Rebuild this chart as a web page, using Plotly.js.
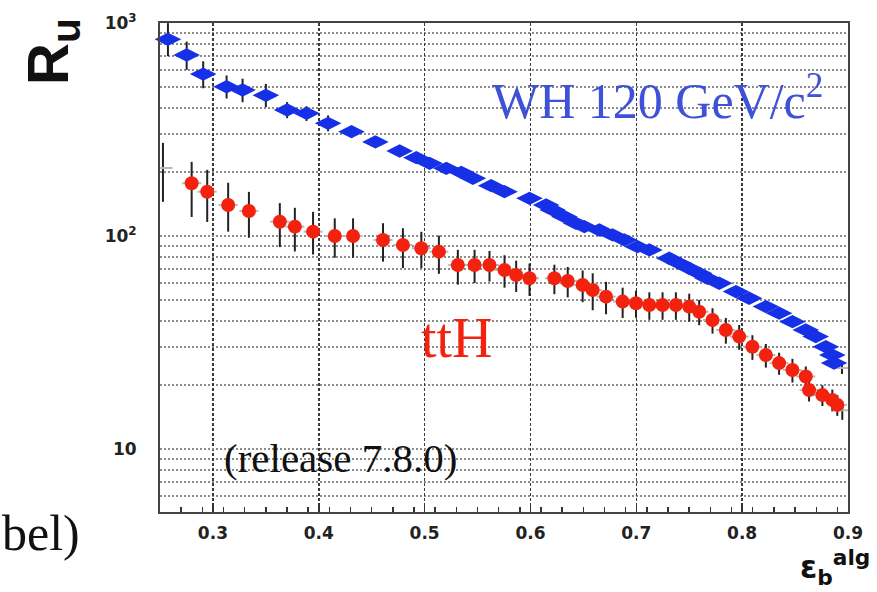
<!DOCTYPE html>
<html>
<head>
<meta charset="utf-8">
<script src="https://cdn.plot.ly/plotly-3.0.1.min.js"></script>
<style>
  html, body { margin: 0; padding: 0; background: #fff; }
  #chart { width: 877px; height: 592px; }
</style>
</head>
<body>
<div id="chart"></div>
<script>
// b-tagging efficiency (eps_b) vs light-jet rejection R_u

// WH 120 GeV/c^2 sample
const whEff = [0.2575, 0.2752, 0.2908, 0.3129, 0.3280, 0.3500, 0.3701, 0.3884, 0.4088, 0.4309,
  0.4535, 0.4764, 0.4922, 0.5047, 0.5205, 0.5346, 0.5456, 0.5629, 0.5755, 0.5991,
  0.6148, 0.6210, 0.6321, 0.6431, 0.6509, 0.6651, 0.6776, 0.6887, 0.7012, 0.7123,
  0.7311, 0.7406, 0.7500, 0.7594, 0.7673, 0.7783, 0.7941, 0.8066, 0.8224, 0.8349,
  0.8475, 0.8601, 0.8695, 0.8790, 0.8852, 0.8868, 0.8943];
const whRej = [838.6, 707.6, 576, 502, 484.6, 457.7, 390.4, 376.7, 338.1, 308.9,
  276.3, 250.6, 233.1, 219.4, 207.9, 199.1, 186.6, 172.3, 161.4, 150.3,
  139.8, 132.5, 123.2, 114.7, 110.6, 106.7, 101.1, 95.8, 89.1, 86.0,
  78.6, 74.4, 70.5, 66.8, 63.3, 60.0, 54.8, 51.0, 46.6, 43.4,
  39.6, 36.2, 33.7, 30.2, 27.6, 25.3, 24.0];
const whErrUp = [160, 110, 85, 65, 63, 60, 35, 30, 30, 20,
  17, 14, 12, 11, 10, 9, 9, 8, 7, 7,
  6, 6, 5, 5, 5, 4.5, 4, 4, 3.5, 3.5,
  3, 3, 3, 2.5, 2.5, 2.5, 2, 2, 2, 1.8,
  1.6, 1.5, 1.4, 1.3, 1.2, 1.2, 1.5];
const whErrDown = [140, 105, 82, 60, 60, 55, 33, 30, 28, 20,
  17, 14, 12, 11, 10, 9, 9, 8, 7, 7,
  6, 6, 5, 5, 5, 4.5, 4, 4, 3.5, 3.5,
  3, 3, 3, 2.5, 2.5, 2.5, 2, 2, 2, 1.8,
  1.6, 1.5, 1.4, 1.3, 1.2, 1.2, 1.5];
// last bin drawn as error bar only
const whShown = [1,1,1,1,1,1,1,1,1,1, 1,1,1,1,1,1,1,1,1,1,
  1,1,1,1,1,1,1,1,1,1, 1,1,1,1,1,1,1,1,1,1, 1,1,1,1,1,1,0];

// ttH sample
const tthEff = [0.2528, 0.2799, 0.2946, 0.3144, 0.3340, 0.3632, 0.3774, 0.3946, 0.4151, 0.4324,
  0.4607, 0.4795, 0.4969, 0.5135, 0.5314, 0.5472, 0.5613, 0.5755, 0.5865, 0.5991,
  0.6226, 0.6352, 0.6493, 0.6588, 0.6714, 0.6871, 0.6997, 0.7123, 0.7248, 0.7374,
  0.7500, 0.7594, 0.7720, 0.7846, 0.7972, 0.8097, 0.8224, 0.8349, 0.8475, 0.8601,
  0.8632, 0.8758, 0.8852, 0.8899, 0.8946];
const tthRej = [208.6, 176.8, 161.4, 139.8, 131.1, 116.7, 110.6, 104.8, 100, 100,
  95.8, 90.7, 87.6, 84.4, 73.1, 73.1, 73.1, 69.2, 65.6, 63.3,
  63.3, 61.5, 58.9, 55.8, 51.9, 49.2, 48.3, 47.4, 47.4, 47.4,
  46.6, 44.1, 40.3, 36.2, 33.7, 30.2, 27.6, 25.3, 23.5, 21.9,
  18.9, 17.9, 17.0, 16.1, 15.2];
const tthErrUp = [65, 46, 43, 38, 30, 26, 25, 25, 21, 21,
  19, 18, 17, 16, 13, 13, 12, 12, 11, 11,
  10, 10, 10, 11, 9, 8, 7, 7, 7, 7,
  7, 6, 5.5, 5, 4.5, 4, 3.5, 3, 3, 2.5,
  2.2, 2, 2, 1.8, 1.5];
const tthErrDown = [64, 54, 45, 35, 33, 28, 26, 23, 21, 21,
  20, 20, 17, 18, 14, 13, 12, 12, 11, 11,
  10, 10, 10, 11, 9, 8, 7, 7, 7, 7,
  7, 6, 5.5, 5, 4.5, 4, 3.5, 3, 3, 2.5,
  2.2, 2, 2, 1.8, 1.5];
// first and last bins drawn as error bars only
const tthShown = [0,1,1,1,1,1,1,1,1,1, 1,1,1,1,1,1,1,1,1,1,
  1,1,1,1,1,1,1,1,1,1, 1,1,1,1,1,1,1,1,1,1, 1,1,1,1,0];

// axis labelling
const xTickVals = [0.3, 0.4, 0.5, 0.6, 0.7, 0.8, 0.9];
const xTickText = ['0.3', '0.4', '0.5', '0.6', '0.7', '0.8', '0.9'];
const yTickVals = [10, 100, 1000];
const yTickText = ['10', '10<sup>2</sup>', '10<sup>3</sup>'];
const yGridVals = [6, 7, 8, 9, 20, 30, 40, 50, 60, 70, 80, 90, 200, 300, 400, 500, 600, 700, 800, 900];

const BLUE = '#1530e6';
const RED = '#f2220f';

function colours(base, shown) {
  return shown.map(s => (s ? base : 'rgba(0,0,0,0)'));
}

const traces = [
  {
    x: whEff, y: whRej, type: 'scatter', mode: 'markers', name: 'WH 120 GeV/c2',
    marker: { symbol: 'diamond-wide', size: 19, color: colours(BLUE, whShown), line: { width: 0 } },
    error_y: { type: 'data', array: whErrUp, arrayminus: whErrDown, symmetric: false,
      color: '#222', thickness: 2, width: 0 },
    error_x: { type: 'constant', value: 0.009, color: '#b8b8b8', thickness: 2, width: 0 },
    cliponaxis: false
  },
  {
    x: tthEff, y: tthRej, type: 'scatter', mode: 'markers', name: 'ttH',
    marker: { symbol: 'circle', size: 14, color: colours(RED, tthShown), line: { width: 0 } },
    error_y: { type: 'data', array: tthErrUp, arrayminus: tthErrDown, symmetric: false,
      color: '#222', thickness: 2, width: 0 },
    error_x: { type: 'constant', value: 0.009, color: '#b8b8b8', thickness: 2, width: 0 },
    cliponaxis: false
  }
];

// convert pixel positions of free-standing labels to paper coordinates
const L = 160, T = 23, W = 688, H = 489;
const px = v => (v - L) / W;
const py = v => (T + H - v) / H;

const serif = 'Liberation Serif, Times New Roman, serif';
const sansBold = 'DejaVu Sans, Arial, sans-serif';

const layout = {
  width: 877, height: 592,
  margin: { l: L, r: 877 - L - W, t: T, b: 592 - T - H, pad: 0 },
  paper_bgcolor: '#ffffff', plot_bgcolor: '#ffffff',
  showlegend: false,
  xaxis: {
    type: 'linear', range: [0.25, 0.9],
    tickmode: 'array', tickvals: xTickVals, ticktext: xTickText,
    tickfont: { family: sansBold, size: 17, weight: 'bold', color: '#222' },
    ticks: 'inside', ticklen: 9, tickwidth: 1.5, tickcolor: '#333',
    ticklabelstandoff: 5,
    showgrid: true, gridcolor: '#3a3a3a', gridwidth: 1.5, griddash: '3px,2px',
    minor: { dtick: 0.02, tick0: 0.25, ticks: 'inside', ticklen: 5, tickwidth: 1.5, tickcolor: '#333', showgrid: false },
    showline: true, linecolor: '#444', linewidth: 2, mirror: true,
    zeroline: false, fixedrange: true
  },
  yaxis: {
    type: 'log', range: [0.704, 3.0],
    tickmode: 'array', tickvals: yTickVals, ticktext: yTickText,
    tickfont: { family: sansBold, size: 17, weight: 'bold', color: '#222' },
    ticks: '', ticklabelstandoff: 18,
    showgrid: true, gridcolor: '#8c8c8c', gridwidth: 2, griddash: '2px,2px',
    minor: { tickmode: 'array', tickvals: yGridVals, ticks: '', showgrid: true,
      gridcolor: '#8c8c8c', gridwidth: 2, griddash: '2px,2px' },
    showline: true, linecolor: '#444', linewidth: 2, mirror: true,
    zeroline: false, fixedrange: true
  },
  annotations: [
    { text: 'R<sub>u</sub>', xref: 'paper', yref: 'paper', x: px(52), y: py(52),
      xanchor: 'center', yanchor: 'middle', textangle: -90, showarrow: false,
      font: { family: 'Liberation Sans Narrow, Liberation Sans, Arial, sans-serif', size: 58, weight: 'bold', color: '#111' } },
    { text: 'ε<sub>b</sub><sup>alg</sup>', xref: 'paper', yref: 'paper', x: px(872), y: py(567),
      xanchor: 'right', yanchor: 'middle', showarrow: false,
      font: { family: sansBold, size: 31, weight: 'bold', color: '#111' } },
    { text: 'WH 120 GeV/c<sup>2</sup>', xref: 'paper', yref: 'paper', x: px(657), y: py(97),
      xanchor: 'center', yanchor: 'middle', showarrow: false,
      font: { family: serif, size: 50, color: '#3f51d6' } },
    { text: 'ttH', xref: 'paper', yref: 'paper', x: px(457), y: py(338),
      xanchor: 'center', yanchor: 'middle', showarrow: false,
      font: { family: serif, size: 56, color: '#f2220f' } },
    { text: '(release 7.8.0)', xref: 'paper', yref: 'paper', x: px(340), y: py(458),
      xanchor: 'center', yanchor: 'middle', showarrow: false,
      font: { family: serif, size: 41, color: '#111' } },
    { text: 'bel)', xref: 'paper', yref: 'paper', x: px(0), y: py(533),
      xanchor: 'left', yanchor: 'middle', showarrow: false,
      font: { family: serif, size: 50, color: '#111' } }
  ]
};

Plotly.newPlot('chart', traces, layout, { staticPlot: true, displayModeBar: false });
</script>
</body>
</html>
